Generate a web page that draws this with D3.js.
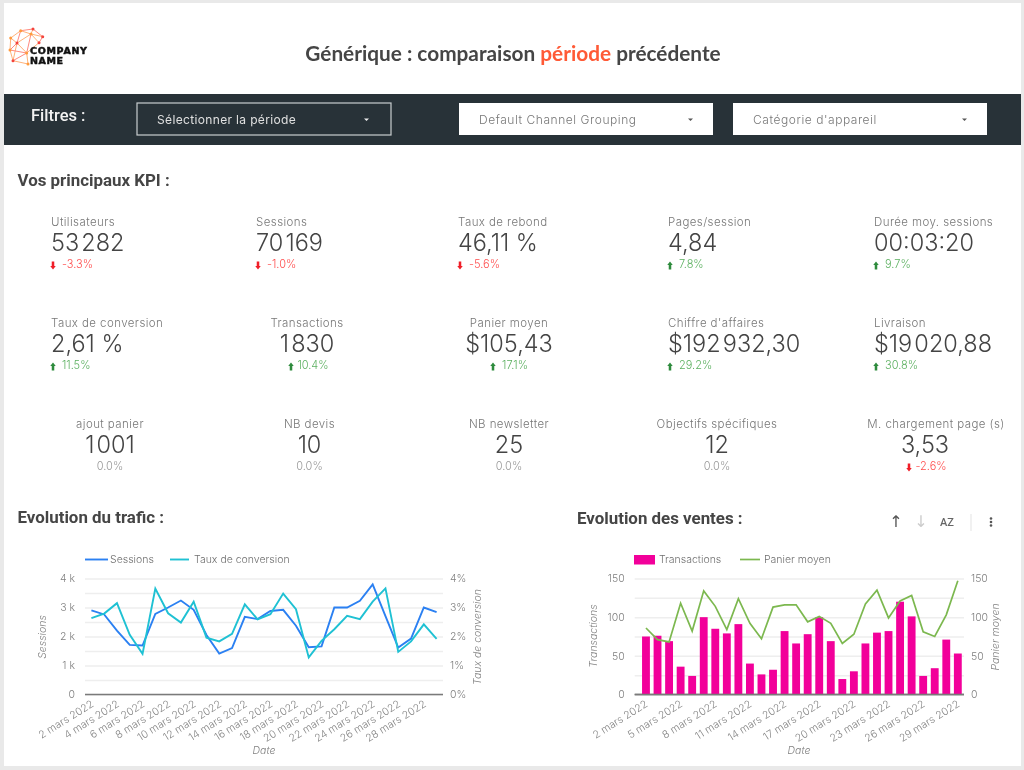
<!DOCTYPE html>
<html lang="fr">
<head>
<meta charset="utf-8">
<title>Générique : comparaison période précédente</title>
<script src="https://cdn.jsdelivr.net/npm/d3@7"></script>
<style>
  html, body { margin: 0; padding: 0; background: #e9e9e9; }
  svg { display: block; filter: blur(0.35px); }
  text { font-family: Inter, "Open Sans", sans-serif; }
  .head { font-family: Roboto, sans-serif; font-weight: 700; fill: #454545; font-size: 16.9px; }
  .axis text { fill: #808080; font-size: 10.5px; font-weight: 300; }
  .axis path { display: none; }
  .grid line { stroke: #eeeeee; stroke-width: 1.5; }
  .axis-title { fill: #808080; font-size: 10.5px; font-style: italic; font-weight: 300; }
  .legend { fill: #707070; font-size: 10.5px; font-weight: 300; }
</style>
</head>
<body>
<div id="chart"></div>
<script>
// KPI
const kpiLabels = ["Utilisateurs", "Sessions", "Taux de rebond", "Pages/session", "Durée moy. sessions",
  "Taux de conversion", "Transactions", "Panier moyen", "Chiffre d'affaires", "Livraison",
  "ajout panier", "NB devis", "NB newsletter", "Objectifs spécifiques", "M. chargement page (s)"];
const kpiValues = ["53\u200A282", "70\u200A169", "46,11 %", "4,84", "00:03:20",
  "2,61 %", "1\u200A830", "$105,43", "$192\u200A932,30", "$19\u200A020,88",
  "1\u200A001", "10", "25", "12", "3,53"];
const kpiDeltas = [-3.3, -1.0, -5.6, 7.8, 9.7,
  11.5, 10.4, 17.1, 29.2, 30.8,
  0, 0, 0, 0, -2.6];

// daily series
const days = d3.range(2, 30);
const sessions = [2900, 2760, 2200, 1710, 1690, 2780, 3000, 3240, 2920, 2050, 1410, 1600, 2680, 2600,
  2880, 2920, 2370, 1630, 1660, 3000, 3000, 3230, 3800, 2700, 1620, 1930, 3000, 2840];
const conversion = [2.63, 2.79, 3.15, 2.06, 1.4, 3.65, 2.8, 2.48, 3.2, 1.96, 1.83, 2.09, 3.11, 2.59,
  2.77, 3.48, 2.94, 1.28, 1.85, 2.25, 2.71, 2.6, 3.2, 3.66, 1.47, 1.83, 2.42, 1.92];
const transactions = [75, 76, 69, 36, 24, 100, 85, 79, 91, 40, 26, 32, 82, 66,
  78, 100, 69, 20, 30, 66, 80, 82, 120, 101, 24, 34, 71, 53];
const basket = [86, 71, 68, 118, 82, 134, 114, 84, 124, 92, 72, 113, 116, 116,
  94, 101, 92, 66, 78, 117, 135, 99, 121, 128, 81, 75, 103, 147];

// logo
const logoNodes = [[20.7, 30.7], [33, 29], [31, 34], [42.7, 36.7], [10.7, 38], [17, 43],
  [26.7, 53], [13, 60.7], [28, 64], [39, 42.7], [10, 50]];
const logoEdges = [[0, 1], [0, 2], [1, 2], [1, 3], [2, 3], [0, 4], [0, 5], [4, 5], [2, 5], [2, 6], [5, 6],
  [4, 10], [5, 10], [10, 7], [5, 7], [6, 7], [7, 8], [6, 8], [3, 9], [2, 9], [9, 6], [10, 6]];

const width = 1024;
const height = 770;
const svg = d3.select("#chart").append("svg").attr("width", width).attr("height", height);

svg.append("rect").attr("x", 4).attr("y", 3).attr("width", 1017).attr("height", 763).attr("fill", "#fff");

// header
const logo = svg.append("g");
logo.selectAll("line").data(logoEdges).join("line")
  .attr("x1", d => logoNodes[d[0]][0]).attr("y1", d => logoNodes[d[0]][1])
  .attr("x2", d => logoNodes[d[1]][0]).attr("y2", d => logoNodes[d[1]][1])
  .attr("stroke", (d, i) => i % 3 ? "#ffb27a" : "#ff8a80").attr("stroke-width", 1);
logo.selectAll("circle").data(logoNodes).join("circle")
  .attr("cx", d => d[0]).attr("cy", d => d[1]).attr("r", 1.5)
  .attr("fill", (d, i) => i % 2 ? "#f4433c" : "#ff9a3c");
logo.append("text").attr("x", 30).attr("y", 54).text("COMPANY")
  .attr("font-size", 9.5).attr("font-weight", 800).attr("textLength", 57).attr("fill", "#111")
  .attr("stroke", "#111").attr("stroke-width", 0.5).style("font-family", "'DejaVu Sans'");
logo.append("text").attr("x", 30).attr("y", 64).text("NAME")
  .attr("font-size", 9.5).attr("font-weight", 800).attr("textLength", 33).attr("fill", "#111")
  .attr("stroke", "#111").attr("stroke-width", 0.5).style("font-family", "'DejaVu Sans'");

const title = svg.append("text").attr("x", 513).attr("y", 61).attr("text-anchor", "middle")
  .attr("font-size", 20.8).attr("font-weight", 700).attr("fill", "#454545").style("font-family", "Lato");
title.append("tspan").text("Générique : comparaison ");
title.append("tspan").text("période").attr("fill", "#ff5a36");
title.append("tspan").text(" précédente");

// filter bar
svg.append("rect").attr("x", 4).attr("y", 94).attr("width", 1017).attr("height", 51).attr("fill", "#283238");
svg.append("text").attr("x", 31).attr("y", 121).text("Filtres :").attr("fill", "#f2f2f2")
  .attr("font-size", 16.5).attr("font-weight", 500).style("font-family", "Roboto");
const filters = [
  { label: "Sélectionner la période", x: 137, dark: true },
  { label: "Default Channel Grouping", x: 459, dark: false },
  { label: "Catégorie d'appareil", x: 733, dark: false }
];
const filter = svg.selectAll("g.filter").data(filters).join("g").attr("class", "filter")
  .attr("transform", d => `translate(${d.x},103)`);
filter.append("rect").attr("width", 254).attr("height", 32)
  .attr("fill", d => d.dark ? "none" : "#fff")
  .attr("stroke", d => d.dark ? "#c9cdcf" : "none").attr("stroke-width", 1.2);
filter.append("text").attr("x", 20).attr("y", 21).text(d => d.label)
  .attr("font-size", 12).attr("letter-spacing", d => d.dark ? 0.35 : 0.55).attr("fill", d => d.dark ? "#e0e0e0" : "#777")
  .attr("font-weight", d => d.dark ? 400 : 300);
filter.append("path").attr("d", "M0,0h5l-2.5,2.6z")
  .attr("transform", d => `translate(${d.dark ? 227 : 229},15.5)`)
  .attr("fill", d => d.dark ? "#eee" : "#555");

// KPI blocks
svg.append("text").attr("class", "head").attr("x", 17.5).attr("y", 186).text("Vos principaux KPI :");
const kpiX = [51, 256, 458, 668, 874, 51, 307, 509, 668, 874, 110, 309.5, 509, 717, 925];
const kpiCentered = i => i === 6 || i === 7 || i >= 10;
const kpi = svg.selectAll("g.kpi").data(kpiLabels).join("g").attr("class", "kpi")
  .attr("transform", (d, i) => `translate(${kpiX[i]},${226 + 101 * Math.floor(i / 5)})`);
kpi.append("text").text(d => d)
  .attr("x", (d, i) => i === 14 ? 11 : 0)
  .attr("text-anchor", (d, i) => kpiCentered(i) ? "middle" : "start")
  .attr("font-size", 11.5).attr("letter-spacing", 0.42).attr("font-weight", 300).attr("fill", "#777");
kpi.append("text").text((d, i) => kpiValues[i]).attr("y", 25)
  .attr("text-anchor", (d, i) => kpiCentered(i) ? "middle" : "start")
  .attr("font-size", 23.5).attr("font-weight", 300).attr("fill", "#444");
const deltaLabel = v => v === 0 ? "0.0%" : (v < 0 ? "-" : "") + Math.abs(v).toFixed(1) + "%";
const deltaColor = v => v === 0 ? "#999" : v < 0 ? "#ff4d4d" : "#5cb060";
kpi.each(function (d, i) {
  const v = kpiDeltas[i];
  const g = d3.select(this);
  const centered = kpiCentered(i);
  const shift = v === 0 ? 0 : 6;
  g.append("text").text(deltaLabel(v)).attr("y", 42)
    .attr("x", centered ? shift : (v === 0 ? 0 : 11))
    .attr("text-anchor", centered ? "middle" : "start")
    .attr("font-size", 11).attr("font-weight", 300).attr("fill", deltaColor(v));
  if (v !== 0) {
    const ax = centered ? -16 : 2;
    g.append("path")
      .attr("d", v > 0 ? "M0,-3.5L2.4,-0.5H1.1V3.5H-1.1V-0.5H-2.4Z" : "M0,3.5L2.4,0.5H1.1V-3.5H-1.1V0.5H-2.4Z")
      .attr("transform", `translate(${ax},39.5) scale(1.15)`)
      .attr("fill", v > 0 ? "#2e8b3d" : "#f01e28");
  }
});

// shared chart parts
const chartTop = 578.5;
const chartBottom = 694.5;

function frame(x0, x1, leftMax, leftStep, leftFmt, rightFmt, rightMax, rightStep, labelGap) {
  const yL = d3.scaleLinear().domain([0, leftMax]).range([chartBottom, chartTop]);
  const yR = d3.scaleLinear().domain([0, rightMax]).range([chartBottom, chartTop]);
  const gridTicks = d3.range(0, leftMax + leftStep / 2, leftStep / 2);
  const grid = d3.axisLeft(yL).tickValues(gridTicks).tickSize(-(x1 - x0)).tickFormat(d => d % leftStep === 0 ? leftFmt(d) : "").tickPadding(labelGap);
  svg.append("g").attr("class", "axis grid").attr("transform", `translate(${x0},0)`).call(grid);
  svg.append("g").attr("class", "axis").attr("transform", `translate(${x1},0)`)
    .call(d3.axisRight(yR).tickValues(d3.range(0, rightMax + 1, rightStep)).tickSize(0).tickPadding(7).tickFormat(rightFmt));
  svg.append("line").attr("x1", x0).attr("x2", x1).attr("y1", chartBottom).attr("y2", chartBottom)
    .attr("stroke", "#7a7a7a").attr("stroke-width", 1.6);
  return { yL, yR };
}

function dateAxis(x, tickDays) {
  const axis = d3.axisBottom(x).tickValues(tickDays).tickSize(0).tickFormat(d => `${d} mars 2022`);
  svg.append("g").attr("class", "axis").attr("transform", `translate(0,${chartBottom})`).call(axis)
    .selectAll("text").attr("text-anchor", "end")
    .attr("dx", 3).attr("dy", 0)
    .attr("transform", "translate(0,13) rotate(-32)")
    .attr("y", 0).style("font-size", "10.5px").style("fill", "#858585");
}

function axisTitle(text, x, y, rotate) {
  svg.append("text").attr("class", "axis-title").attr("text-anchor", "middle")
    .attr("transform", `translate(${x},${y})` + (rotate ? " rotate(-90)" : "")).text(text);
}

// Evolution du trafic
svg.append("text").attr("class", "head").attr("x", 17.5).attr("y", 523).text("Evolution du trafic :");
const trafficX = d3.scalePoint().domain(days).range([85, 443]).padding(0.5);
const traffic = frame(85, 443, 4000, 1000, d => d === 0 ? "0" : `${d / 1000} k`,
  d => `${d}%`, 4, 1, 10);
dateAxis(trafficX, days.filter(d => d % 2 === 0));
const line1 = d3.line().x((d, i) => trafficX(days[i]));
svg.append("path").datum(sessions).attr("fill", "none").attr("stroke", "#2b80f2").attr("stroke-width", 1.9)
  .attr("d", line1.y(d => traffic.yL(d)));
svg.append("path").datum(conversion).attr("fill", "none").attr("stroke", "#1fc1d3").attr("stroke-width", 1.9)
  .attr("d", line1.y(d => traffic.yR(d)));
axisTitle("Sessions", 46, 637, true);
axisTitle("Taux de conversion", 481, 637, true);
axisTitle("Date", 264, 754, false);
svg.append("line").attr("x1", 85).attr("x2", 108).attr("y1", 559.5).attr("y2", 559.5).attr("stroke", "#2b80f2").attr("stroke-width", 1.9);
svg.append("text").attr("class", "legend").attr("x", 110).attr("y", 563).text("Sessions");
svg.append("line").attr("x1", 170).attr("x2", 189).attr("y1", 559.5).attr("y2", 559.5).attr("stroke", "#1fc1d3").attr("stroke-width", 1.9);
svg.append("text").attr("class", "legend").attr("x", 194).attr("y", 563).text("Taux de conversion");

// Evolution des ventes
svg.append("text").attr("class", "head").attr("x", 577).attr("y", 524).text("Evolution des ventes :");
const salesFrame = frame(634.7, 964, 150, 50, d => `${d}`, d => `${d}`, 150, 50, 10);
const salesX = d3.scaleBand().domain(days).range([640.2, 963.6]).paddingInner(0.32).paddingOuter(0.16);
svg.append("g").selectAll("rect").data(transactions).join("rect")
  .attr("x", (d, i) => salesX(days[i]))
  .attr("width", salesX.bandwidth())
  .attr("y", d => salesFrame.yL(d))
  .attr("height", d => chartBottom - salesFrame.yL(d))
  .attr("fill", "#f2009a");
svg.append("path").datum(basket).attr("fill", "none").attr("stroke", "#7cb84f").attr("stroke-width", 1.7)
  .attr("d", d3.line().x((d, i) => salesX(days[i]) + salesX.bandwidth() / 2).y(d => salesFrame.yR(d)));
dateAxis(salesX, days.filter(d => (d - 2) % 3 === 0));
svg.append("line").attr("x1", 634.7).attr("x2", 964).attr("y1", chartBottom).attr("y2", chartBottom)
  .attr("stroke", "#7a7a7a").attr("stroke-width", 1.6);
axisTitle("Transactions", 597, 636, true);
axisTitle("Panier moyen", 999, 637, true);
axisTitle("Date", 799, 754, false);
svg.append("rect").attr("x", 634).attr("y", 555).attr("width", 21).attr("height", 9.5).attr("fill", "#f2009a");
svg.append("text").attr("class", "legend").attr("x", 659).attr("y", 563).text("Transactions");
svg.append("line").attr("x1", 740).attr("x2", 760).attr("y1", 559.5).attr("y2", 559.5).attr("stroke", "#7cb84f").attr("stroke-width", 1.7);
svg.append("text").attr("class", "legend").attr("x", 764).attr("y", 563).text("Panier moyen");

// chart toolbar
const toolbar = svg.append("g");
toolbar.append("text").attr("x", 896).attr("y", 527).attr("text-anchor", "middle").attr("font-size", 16).attr("fill", "#555").style("font-family", "'DejaVu Sans'").text("↑");
toolbar.append("text").attr("x", 921).attr("y", 527).attr("text-anchor", "middle").attr("font-size", 16).attr("fill", "#ccc").style("font-family", "'DejaVu Sans'").text("↓");
toolbar.append("text").attr("x", 947).attr("y", 526).attr("text-anchor", "middle").attr("font-size", 11).attr("font-weight", 500).attr("fill", "#666").style("font-family", "Roboto").text("AZ");
toolbar.append("line").attr("x1", 971).attr("x2", 971).attr("y1", 514).attr("y2", 531).attr("stroke", "#e3e3e3");
toolbar.selectAll("circle").data([-3.5, 0, 3.5]).join("circle")
  .attr("cx", 991).attr("cy", d => 522 + d).attr("r", 1.3).attr("fill", "#555");
</script>
</body>
</html>
